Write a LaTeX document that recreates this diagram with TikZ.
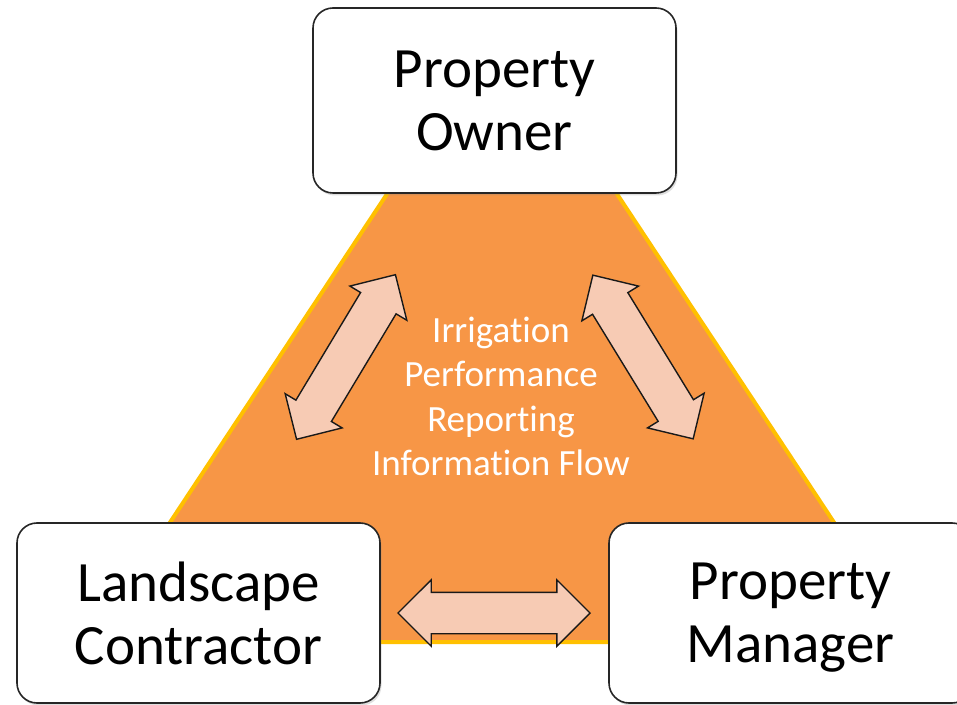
\documentclass[tikz,border=0pt]{standalone}
\usepackage{fontspec}
\setmainfont[Ligatures=NoCommon]{Carlito}
\usepackage{tikz}
\usetikzlibrary{shapes.arrows,shadows}
\definecolor{flowfill}{RGB}{247,150,70}
\definecolor{flowedge}{RGB}{255,192,0}
\definecolor{arrowpeach}{RGB}{247,203,180}

\begin{document}
\begin{tikzpicture}[x=1pt, y=1pt,
  partybox/.style={draw=black!85, line width=1.6pt, fill=white, rounded corners=20pt,
    minimum width=363pt, align=center, text depth=0pt,
    font=\fontsize{57}{63}\selectfont,
    drop shadow={shadow xshift=1.5pt, shadow yshift=-2.5pt, opacity=0.25}},
  flowarrow/.style={double arrow, draw=black!90, line width=1.4pt, fill=arrowpeach,
    minimum height=192pt, minimum width=65pt, double arrow head extend=12.5pt,
    inner xsep=0pt, inner ysep=20pt}]
\clip (0,0) rectangle (957,704);

% Triangle
\filldraw[fill=flowfill, draw=flowedge, line width=4pt] (91,62) -- (502,684) -- (913,62) -- cycle;

% Centre text
\node[text=white, align=center, font=\fontsize{37}{44.4}\selectfont] (flow) at (501,307.5)
  {Irrigation\\Performance\\Reporting\\Information Flow};

% Arrows
\node[flowarrow, rotate=59] (arrowL) at (346,347) {};
\node[flowarrow, rotate=121.5] (arrowR) at (643,347) {};
\node[flowarrow] (arrowB) at (494,91) {};

% Parties
\node[partybox, minimum height=185pt] (owner) at (494.5,603.5) {Property\\Owner};
\node[partybox, minimum height=180pt] (contractor) at (198.5,91) {Landscape\\Contractor};
\node[partybox, minimum height=180pt] (manager) at (790.5,91) {Property\\Manager};
\end{tikzpicture}
\end{document}
